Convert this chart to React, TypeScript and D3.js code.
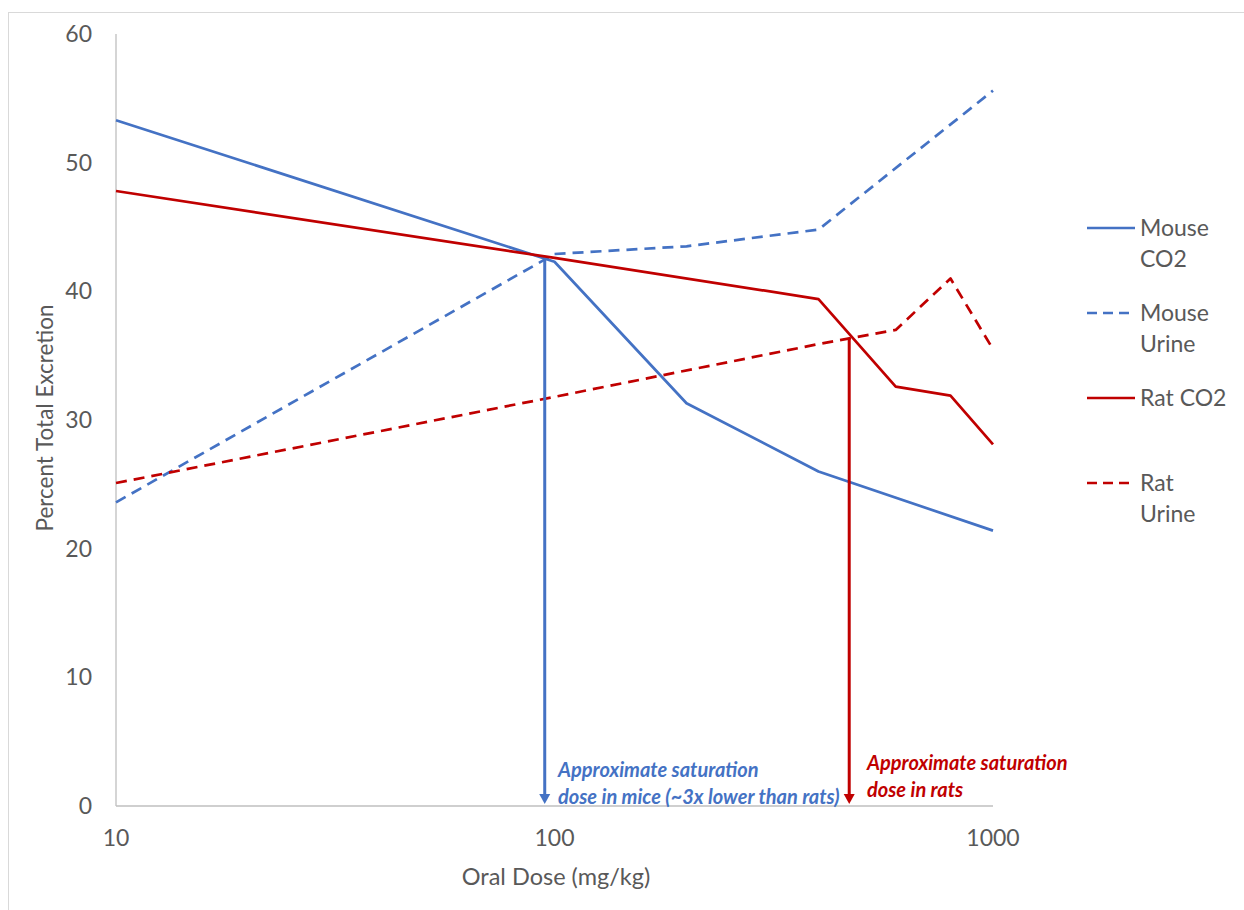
import React from "react";
import * as d3 from "d3";

const doseTicks = [10, 100, 1000];
const yTicks = [0, 10, 20, 30, 40, 50, 60];

const mouseCO2Dose = [10, 100, 200, 400, 1000];
const mouseCO2 = [53.3, 42.3, 31.3, 26.0, 21.4];
const mouseUrineDose = [10, 100, 200, 400, 1000];
const mouseUrine = [23.6, 42.9, 43.5, 44.8, 55.6];
const ratCO2Dose = [10, 100, 400, 600, 800, 1000];
const ratCO2 = [47.8, 42.6, 39.4, 32.6, 31.9, 28.1];
const ratUrineDose = [10, 100, 400, 600, 800, 1000];
const ratUrine = [25.1, 31.8, 35.9, 37.0, 41.0, 35.5];

const seriesNames = [["Mouse", "CO2"], ["Mouse", "Urine"], ["Rat CO2"], ["Rat", "Urine"]];

const arrowDoses = [95, 470];
const arrowTops = [42.5, 36.4];
const annotations = [
  ["Approximate saturation", "dose in mice (~3x lower than rats)"],
  ["Approximate saturation", "dose in rats"],
];

const BLUE = "#4472C4";
const RED = "#C00000";
const GRAY = "#595959";
const FONT = "Lato, 'Open Sans', sans-serif";

export default function App() {
  const W = 1244, H = 910;
  const x = d3.scaleLog().domain([10, 1000]).range([116, 993]);
  const y = d3.scaleLinear().domain([0, 60]).range([806, 34]);
  const line = d3.line<[number, number]>().x(d => x(d[0])).y(d => y(d[1]));

  const series = [
    { d: mouseCO2Dose.map((v, i) => [v, mouseCO2[i]] as [number, number]), color: BLUE, dash: null },
    { d: mouseUrineDose.map((v, i) => [v, mouseUrine[i]] as [number, number]), color: BLUE, dash: "11 7" },
    { d: ratCO2Dose.map((v, i) => [v, ratCO2[i]] as [number, number]), color: RED, dash: null },
    { d: ratUrineDose.map((v, i) => [v, ratUrine[i]] as [number, number]), color: RED, dash: "11 7" },
  ];
  const arrowColors = [BLUE, RED];
  const annoX = [558, 867];
  const annoY = [777, 770];

  return (
    <svg width={W} height={H} style={{ position: "absolute", left: 0, top: 0, background: "#fff" }}>
      <rect x={8.5} y={12.5} width={W} height={H} fill="#fff" stroke="#D9D9D9" strokeWidth={1} />
      {/* axes */}
      <line x1={x(10)} x2={x(10)} y1={y(60)} y2={y(0)} stroke="#BFBFBF" strokeWidth={1.3} />
      <line x1={x(10)} x2={x(1000)} y1={y(0)} y2={y(0)} stroke="#BFBFBF" strokeWidth={1.3} />
      {yTicks.map(t => (
        <text key={t} x={92} y={y(t)} dy="0.35em" textAnchor="end" fontFamily={FONT} fontSize={23} fill={GRAY}>{t}</text>
      ))}
      {doseTicks.map(t => (
        <text key={t} x={x(t)} y={838} dy="0.35em" textAnchor="middle" fontFamily={FONT} fontSize={23} fill={GRAY}>{t}</text>
      ))}
      <text x={556} y={877} dy="0.35em" textAnchor="middle" fontFamily={FONT} fontSize={23.5} fill={GRAY}>Oral Dose (mg/kg)</text>
      <text transform="translate(45,418) rotate(-90)" dy="0.35em" textAnchor="middle" fontFamily={FONT} fontSize={22.5} fill={GRAY}>Percent Total Excretion</text>

      {/* series */}
      {series.map((s, i) => (
        <path key={i} d={line(s.d) || ""} fill="none" stroke={s.color} strokeWidth={2.7}
          strokeDasharray={s.dash || undefined} strokeLinejoin="round" />
      ))}

      {/* arrows */}
      {arrowDoses.map((dose, i) => {
        const ax = x(dose);
        const tip = y(0) - 2;
        return (
          <g key={i}>
            <line x1={ax} x2={ax} y1={y(arrowTops[i])} y2={tip - 8} stroke={arrowColors[i]} strokeWidth={3} />
            <path d={`M${ax - 5.5},${tip - 10} L${ax + 5.5},${tip - 10} L${ax},${tip} Z`} fill={arrowColors[i]} />
            {annotations[i].map((t, j) => (
              <text key={j} x={annoX[i]} y={annoY[i] + j * 27} fontFamily={FONT} fontSize={20}
                fontWeight="bold" fontStyle="italic" fill={arrowColors[i]}>{t}</text>
            ))}
          </g>
        );
      })}

      {/* legend */}
      {series.map((s, i) => {
        const ly = 228 + i * 85;
        return (
          <g key={i}>
            <line x1={1087} x2={1135} y1={ly} y2={ly} stroke={s.color} strokeWidth={2.7}
              strokeDasharray={s.dash ? "10 6" : undefined} />
            {seriesNames[i].map((t, j) => (
              <text key={j} x={1140} y={ly + j * 31} dy="0.35em" fontFamily={FONT} fontSize={23} fill={GRAY}>{t}</text>
            ))}
          </g>
        );
      })}
    </svg>
  );
}
